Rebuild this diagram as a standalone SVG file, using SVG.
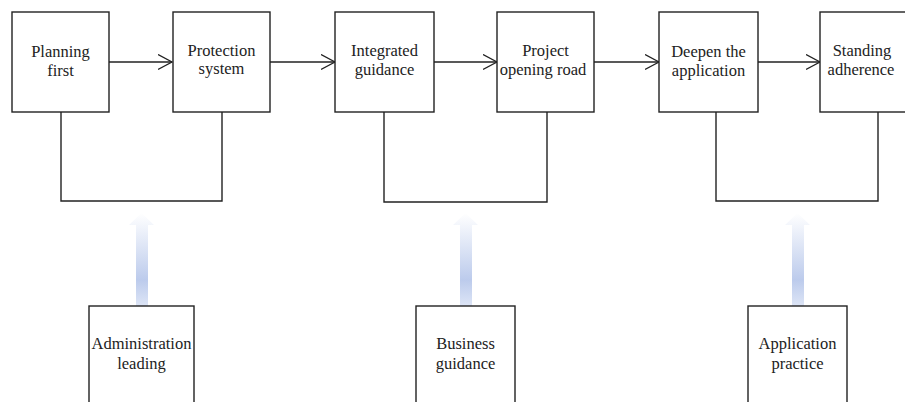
<svg xmlns="http://www.w3.org/2000/svg" width="905" height="402" viewBox="0 0 905 402">
<style>
.box{fill:#fff;stroke:#222;stroke-width:1.4}
.ln{fill:none;stroke:#222;stroke-width:1.4}
text{font-family:"Liberation Serif","Times New Roman",serif;font-size:16.5px;fill:#222;text-anchor:middle}
</style>
<defs>
<marker id="open" markerWidth="16" markerHeight="18" refX="14" refY="8" orient="auto" markerUnits="userSpaceOnUse">
<path d="M0,0.5 L14,8 L0,15.5" fill="none" stroke="#222" stroke-width="1.3"/>
</marker>
<linearGradient id="bg" x1="0" y1="0" x2="0" y2="1">
<stop offset="0" stop-color="#ffffff"/>
<stop offset="0.72" stop-color="#bccbec"/>
<stop offset="1" stop-color="#dde5f6"/>
</linearGradient>
</defs>
<g id="connectors">
<path class="ln" d="M109,62 H172" marker-end="url(#open)"/>
<path class="ln" d="M270,62 H335" marker-end="url(#open)"/>
<path class="ln" d="M434,62 H497" marker-end="url(#open)"/>
<path class="ln" d="M594,62 H659" marker-end="url(#open)"/>
<path class="ln" d="M758,62 H820" marker-end="url(#open)"/>
<path class="ln" d="M61,112 V201 H222 V112"/>
<path class="ln" d="M384,112 V202 H547 V112"/>
<path class="ln" d="M716,112 V201 H878 V112"/>
<path fill="url(#bg)" d="M136,306 V225 H129 L141.5,213 L154,225 H148 V306 Z"/>
<path fill="url(#bg)" d="M460,306 V225 H453 L465.5,213 L478,225 H472 V306 Z"/>
<path fill="url(#bg)" d="M792,306 V225 H785 L797.5,213 L810,225 H804 V306 Z"/>
</g>
<g id="n1"><rect class="box" x="12" y="12" width="97" height="100"/><text x="60.5" y="57">Planning</text><text x="60.5" y="76">first</text></g>
<g id="n2"><rect class="box" x="173" y="12" width="97" height="100"/><text x="221.5" y="56">Protection</text><text x="221.5" y="74">system</text></g>
<g id="n3"><rect class="box" x="335" y="12" width="99" height="100"/><text x="384.5" y="56">Integrated</text><text x="384.5" y="75">guidance</text></g>
<g id="n4"><rect class="box" x="497" y="12" width="97" height="100"/><text x="545.5" y="56">Project</text><text x="543" y="75">opening road</text></g>
<g id="n5"><rect class="box" x="659" y="12" width="99" height="100"/><text x="708.5" y="57">Deepen the</text><text x="708.5" y="76">application</text></g>
<g id="n6"><rect class="box" x="820" y="12" width="97" height="100"/><text x="862" y="56">Standing</text><text x="861" y="75">adherence</text></g>
<g id="n7"><rect class="box" x="89" y="306" width="105" height="110"/><text x="141.5" y="349">Administration</text><text x="141.5" y="369">leading</text></g>
<g id="n8"><rect class="box" x="416" y="306" width="99" height="110"/><text x="465.5" y="349">Business</text><text x="465.5" y="369">guidance</text></g>
<g id="n9"><rect class="box" x="748" y="306" width="99" height="110"/><text x="797.5" y="349">Application</text><text x="797.5" y="369">practice</text></g>
</svg>
